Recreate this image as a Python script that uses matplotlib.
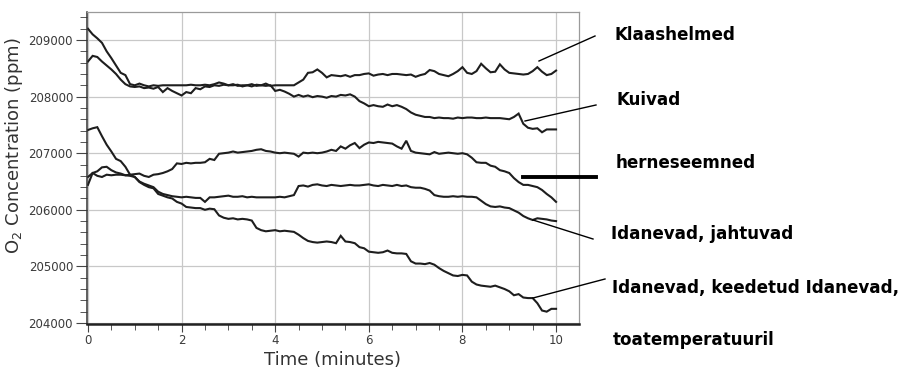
import numpy as np
import matplotlib
matplotlib.use("Agg")
import matplotlib.pyplot as plt
from matplotlib.lines import Line2D
from matplotlib.ticker import MultipleLocator

# ---- data (time in minutes, O2 concentration in ppm) ----
time_min = [round(0.1 * i, 1) for i in range(101)]

klaashelmed = [
    209200, 209100, 209030, 208950, 208800, 208680, 208550, 208420, 208380, 208220,
    208200, 208230, 208200, 208180, 208200, 208190, 208200, 208200, 208200, 208200,
    208200, 208200, 208210, 208200, 208200, 208210, 208200, 208220, 208250, 208230,
    208200, 208200, 208210, 208180, 208200, 208220, 208190, 208200, 208230, 208190,
    208200, 208200, 208200, 208200, 208200, 208250, 208300, 208420, 208430, 208480,
    208420, 208340, 208380, 208370, 208360, 208380, 208350, 208380, 208380, 208400,
    208410, 208370, 208390, 208400, 208380, 208400, 208400, 208390, 208380, 208390,
    208350, 208380, 208400, 208470, 208450, 208400, 208380, 208360, 208400, 208450,
    208520, 208420, 208400, 208450, 208580, 208500, 208430, 208440, 208570, 208480,
    208420, 208410, 208400, 208390, 208400, 208450, 208520, 208440, 208380, 208400,
    208460,
]

kuivad = [
    208620, 208720, 208700, 208620, 208550, 208480, 208400, 208300, 208220, 208180,
    208170, 208180, 208150, 208160, 208140, 208170, 208080, 208150, 208100, 208060,
    208020, 208080, 208060, 208150, 208130, 208180, 208170, 208200, 208190, 208210,
    208200, 208220, 208190, 208200, 208200, 208180, 208210, 208200, 208190, 208200,
    208100, 208120, 208090, 208050, 208000, 208030, 208000, 208020, 207990, 208010,
    208000, 207980, 208010, 208000, 208030, 208020, 208040, 208000, 207920, 207880,
    207830, 207850, 207830, 207820, 207860, 207830, 207850, 207820, 207780, 207720,
    207680, 207660, 207640, 207640, 207620, 207630, 207620, 207620, 207610, 207630,
    207620, 207630, 207630, 207620, 207620, 207630, 207620, 207620, 207620, 207610,
    207600, 207640, 207700, 207520, 207450, 207430, 207440, 207370, 207420, 207420,
    207420,
]

herneseemned = [
    206580, 206650, 206600, 206580, 206620, 206610, 206620, 206620, 206610, 206620,
    206630, 206640, 206600, 206580, 206620, 206630, 206650, 206680, 206720, 206820,
    206810, 206830, 206820, 206830, 206830, 206840, 206900, 206880, 206990, 207000,
    207010, 207030, 207010, 207020, 207030, 207040, 207060, 207070, 207040, 207030,
    207010, 207000, 207010, 207000, 206990, 206940, 207010, 207000, 207010, 207000,
    207010, 207030, 207060, 207040, 207120, 207080, 207140, 207180, 207090, 207150,
    207190, 207180, 207200, 207190, 207180, 207170, 207120, 207080, 207220, 207040,
    207010, 207000, 206990, 206980, 207020, 206990, 207000, 207010, 207000, 206990,
    207000, 206980, 206920, 206840, 206830, 206830, 206780, 206760, 206700, 206680,
    206650, 206560, 206490, 206440, 206440, 206420, 206400, 206350, 206280, 206220,
    206140,
]

jahtuvad = [
    206440, 206650, 206680, 206750, 206760, 206700, 206660, 206640, 206610, 206600,
    206580, 206500, 206460, 206430, 206400, 206320, 206280, 206260, 206240, 206230,
    206220, 206230, 206220, 206210, 206210, 206140, 206220, 206220, 206230, 206240,
    206250, 206230, 206230, 206240, 206220, 206230, 206220, 206220, 206220, 206220,
    206220, 206230, 206220, 206240, 206260, 206420, 206430, 206410, 206440, 206450,
    206430, 206420, 206440, 206430, 206420, 206430, 206440, 206430, 206430, 206440,
    206450, 206430, 206420, 206440, 206430, 206420, 206440, 206420, 206430, 206400,
    206390, 206390, 206370, 206340, 206260, 206240, 206230, 206230, 206240, 206230,
    206240, 206230, 206230, 206220, 206160, 206100, 206060, 206050, 206060, 206040,
    206030, 205990, 205950, 205890, 205850, 205820, 205850, 205840, 205830, 205810,
    205800,
]

keedetud = [
    207410, 207440, 207460, 207300, 207150, 207030, 206900, 206860, 206760, 206620,
    206580, 206490, 206440, 206400, 206380, 206280, 206250, 206220, 206200, 206140,
    206110, 206050, 206040, 206030, 206030, 206000, 206020, 206010, 205900, 205860,
    205840, 205850, 205830, 205840, 205830, 205810, 205680, 205640, 205620, 205630,
    205640, 205620, 205630, 205620, 205610, 205560, 205500, 205450, 205430, 205420,
    205430, 205440, 205430, 205410, 205540, 205440, 205430, 205410, 205340, 205320,
    205260, 205250, 205240, 205250, 205280, 205240, 205230, 205230, 205220, 205090,
    205050, 205050, 205040, 205060, 205030, 204970, 204920, 204880, 204840, 204830,
    204850, 204840, 204730, 204680, 204660, 204650, 204640, 204660, 204630, 204600,
    204560, 204490, 204510, 204450, 204440, 204440, 204350, 204220, 204200, 204250,
    204250,
]

series = [klaashelmed, kuivad, herneseemned, jahtuvad, keedetud]

label_texts = ["Klaashelmed", "Kuivad", "herneseemned", "Idanevad, jahtuvad",
               "Idanevad, keedetud Idanevad,", "toatemperatuuril"]

x_ticks = [0, 2, 4, 6, 8, 10]
y_ticks = [204000, 205000, 206000, 207000, 208000, 209000]

# ---- figure ----
W, H = 906, 370
fig = plt.figure(figsize=(W / 100, H / 100), dpi=100)
ax = fig.add_axes([87 / W, 1 - 324 / H, (579 - 87) / W, (324 - 12) / H])

for s in series:
    ax.plot(time_min, s, color="#1e1e1e", lw=1.5, solid_joinstyle="miter")

ax.set_xlim(-0.02, 10.49)
ax.set_ylim(203982, 209495)
ax.set_xticks(x_ticks)
ax.set_yticks(y_ticks)
ax.set_xticklabels([str(v) for v in x_ticks])
ax.set_yticklabels([str(v) for v in y_ticks])
ax.xaxis.set_minor_locator(MultipleLocator(0.5))
ax.yaxis.set_minor_locator(MultipleLocator(200))
ax.grid(True, which="major", color="#c8c8c8", lw=0.9)
ax.set_axisbelow(True)

ax.tick_params(axis="both", which="major", direction="out", labelsize=8.5,
               labelcolor="#3a3a3a", color="#444444", width=0.8)
ax.tick_params(axis="y", which="major", length=8, pad=2)
ax.tick_params(axis="y", which="minor", direction="out", length=5, width=0.7, color="#555555")
ax.tick_params(axis="x", which="major", length=5.5, pad=2)
ax.tick_params(axis="x", which="minor", direction="out", length=4, width=0.7, color="#555555")

for side in ("top", "right"):
    ax.spines[side].set_color("#9a9a9a")
    ax.spines[side].set_linewidth(0.9)
ax.spines["bottom"].set_color("#222222")
ax.spines["bottom"].set_linewidth(1.8)
ax.spines["left"].set_color("#333333")
ax.spines["left"].set_linewidth(1.1)

ax.set_xlabel("Time (minutes)", fontsize=13, color="#333333")
ax.set_ylabel("O$_2$ Concentration (ppm)", fontsize=13, color="#333333")
ax.xaxis.set_label_coords(0.5, -0.085)
ax.yaxis.set_label_coords(-0.125, 0.57)

# ---- annotation texts on the right ----
text_pos = [(615, 40), (616, 105), (616, 168), (611, 239), (612, 293), (613, 345)]
for (px, py), t in zip(text_pos, label_texts):
    fig.text(px / W, 1 - py / H, t, fontsize=12.1, fontweight="bold",
             family="DejaVu Sans", ha="left", va="baseline", color="black")

# ---- leader lines (figure pixel coordinates) ----
leaders = [((539, 61), (595, 36), 1.0),
           ((525, 121), (596, 105), 1.0),
           ((523, 177), (596, 177), 2.8),
           ((533, 220), (593, 239), 1.0),
           ((533, 298), (605, 279), 1.0)]
for (x0, y0), (x1, y1), lw in leaders:
    fig.add_artist(Line2D([x0 / W, x1 / W], [1 - y0 / H, 1 - y1 / H],
                          transform=fig.transFigure, color="black", lw=lw))

fig.savefig("out.png", dpi=100)
